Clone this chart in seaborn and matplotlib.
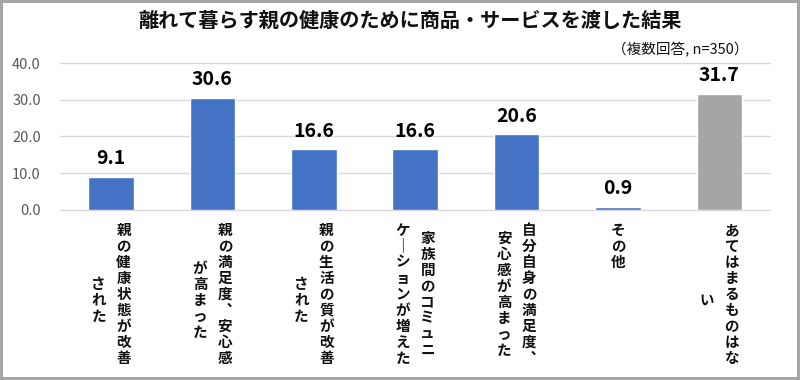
import matplotlib.pyplot as plt
import seaborn as sns
import pandas as pd

# data
categories = ["親の健康状態が改善された", "親の満足度、安心感が高まった", "親の生活の質が改善された",
              "家族間のコミュニケーションが増えた", "自分自身の満足度、安心感が高まった",
              "その他", "あてはまるものはない"]
values = [9.1, 30.6, 16.6, 16.6, 20.6, 0.9, 31.7]
# label columns (vertical writing, first column is rightmost)
label_lines = [["親の健康状態が改善", "された"],
               ["親の満足度、安心感", "が高まった"],
               ["親の生活の質が改善", "された"],
               ["家族間のコミュニ", "ケーションが増えた"],
               ["自分自身の満足度、", "安心感が高まった"],
               ["その他"],
               ["あてはまるものはな", "い"]]
bar_colors = ["#4472C4"] * 6 + ["#A5A5A5"]
title = "離れて暮らす親の健康のために商品・サービスを渡した結果"
note = "（複数回答, n=350）"

df = pd.DataFrame({"cat": categories, "val": values})

sns.set_style("white")
plt.rcParams["font.family"] = ["Noto Sans CJK JP", "DejaVu Sans"]

fig = plt.figure(figsize=(8, 3.8), dpi=100)
fig.patch.set_edgecolor("#A6A6A6")
fig.patch.set_linewidth(3)
ax = fig.add_axes([0.0755, 0.4474, 0.887, 0.3868])

sns.barplot(data=df, x="cat", y="val", hue="cat", palette=bar_colors,
            width=0.45, legend=False, ax=ax, saturation=1)

for c in ax.containers:
    ax.bar_label(c, fmt="%.1f", padding=6, fontsize=14, fontweight="bold", color="black")

ax.set_ylim(0, 40)
ax.set_yticks([0, 10, 20, 30, 40])
ax.set_yticklabels([f"{t:.1f}" for t in [0, 10, 20, 30, 40]], color="#595959", fontsize=10.5)
ax.yaxis.grid(True, color="#D9D9D9", lw=1)
for gl in ax.get_ygridlines():
    gl.set_clip_on(False)
ax.set_axisbelow(True)
sns.despine(ax=ax, left=True, bottom=True)
ax.tick_params(length=0, pad=14)
ax.set_xticks(range(len(categories)))
ax.set_xticklabels([])
ax.set_xlabel("")
ax.set_ylabel("")

# vertical category labels, drawn one character at a time
vert = {"、": "︑", "ー": "｜"}
pitch = 11.5  # points per character
col_gap = 18
top = 8.5
for i, lines in enumerate(label_lines):
    n_max = max(len(s) for s in lines)
    for k, line in enumerate(lines):
        dx = ((len(lines) - 1) / 2 - k) * col_gap
        short = n_max - len(line)
        start = top + short * pitch / 2 + (4.5 if short > 1 else 0)
        for j, ch in enumerate(line):
            ax.annotate(vert.get(ch, ch), xy=(i, 0), xycoords="data",
                        xytext=(dx, -(start + (j + 0.5) * pitch)),
                        textcoords="offset points", ha="center", va="center",
                        fontsize=10.5, fontweight="bold", color="#111111",
                        annotation_clip=False)

fig.text(0.5125, 0.947, title, ha="center", va="center", fontsize=14.5,
         fontweight="bold", color="#111111")
fig.text(0.935, 0.868, note, ha="right", va="center", fontsize=10.5, color="#111111")

fig.savefig("out.png", dpi=100)
